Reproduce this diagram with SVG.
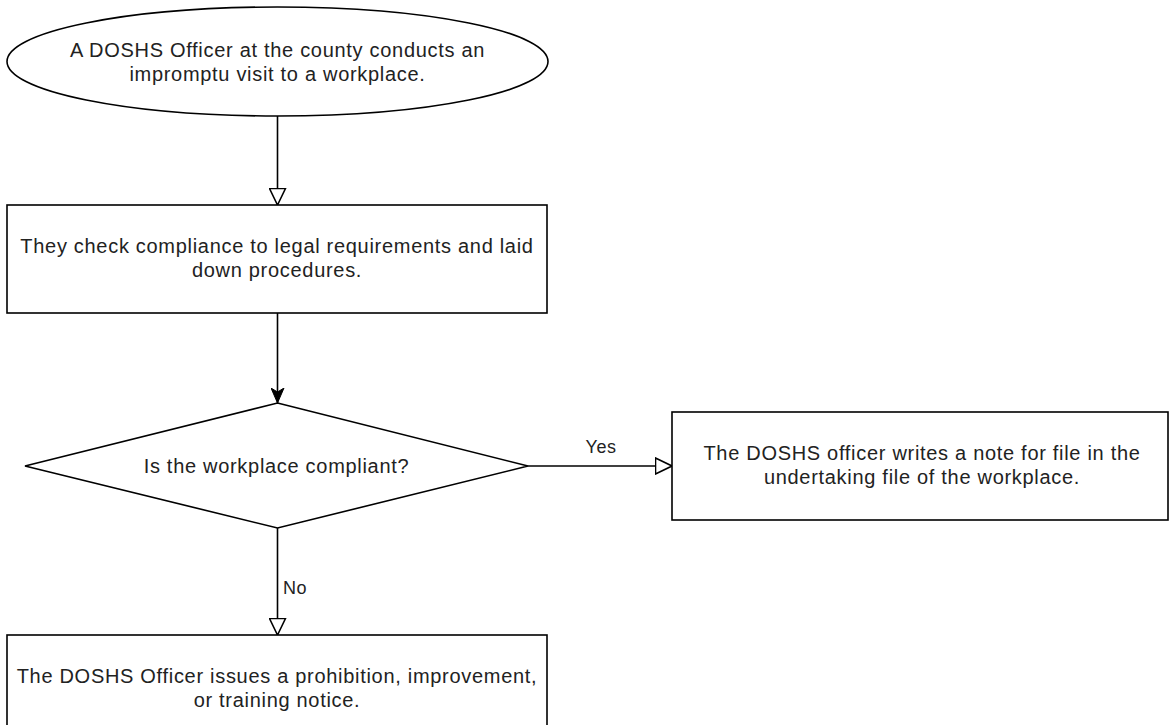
<svg xmlns="http://www.w3.org/2000/svg" width="1169" height="725" viewBox="0 0 1169 725">
  <style>
    .shape { fill: #ffffff; stroke: #000000; stroke-width: 1.6; }
    .edge { fill: none; stroke: #000000; stroke-width: 1.6; }
    .txt { font-family: "Liberation Sans", Arial, sans-serif; font-size: 20px; letter-spacing: 0.7px; fill: #222222; text-anchor: middle; }
    .lbl { font-family: "Liberation Sans", Arial, sans-serif; font-size: 18px; letter-spacing: 0.5px; fill: #222222; }
  </style>
  <defs>
    <marker id="hollow" markerUnits="userSpaceOnUse" viewBox="0 0 18 18" refX="17.5" refY="9" markerWidth="18" markerHeight="18" orient="auto">
      <path d="M1,1 L17.5,9 L1,17 Z" fill="#ffffff" stroke="#000000" stroke-width="1.6"/>
    </marker>
    <marker id="filled" markerUnits="userSpaceOnUse" viewBox="0 0 16 14" refX="15.5" refY="7" markerWidth="16" markerHeight="14" orient="auto">
      <path d="M0.5,0.5 L15.5,7 L0.5,13.5 L4.5,7 Z" fill="#000000" stroke="#000000" stroke-width="1"/>
    </marker>
  </defs>
  <rect width="1169" height="725" fill="#ffffff"/>

  <g id="connectors">
    <path class="edge" d="M277.5,116 L277.5,205" marker-end="url(#hollow)"/>
    <path class="edge" d="M277.5,313 L277.5,403" marker-end="url(#filled)"/>
    <path class="edge" d="M528,466 L672,466" marker-end="url(#hollow)"/>
    <path class="edge" d="M277.5,528 L277.5,635" marker-end="url(#hollow)"/>
    <text class="lbl" x="601" y="453" text-anchor="middle">Yes</text>
    <text class="lbl" x="283" y="594">No</text>
  </g>

  <g id="start">
    <ellipse class="shape" cx="277.5" cy="61.5" rx="270.5" ry="54.5"/>
    <text class="txt" x="277.5" y="57">A DOSHS Officer at the county conducts an</text>
    <text class="txt" x="277.5" y="81">impromptu visit to a workplace.</text>
  </g>

  <g id="check">
    <rect class="shape" x="7" y="205" width="540" height="108"/>
    <text class="txt" x="277" y="253">They check compliance to legal requirements and laid</text>
    <text class="txt" x="277" y="277">down procedures.</text>
  </g>

  <g id="decision">
    <polygon class="shape" points="277.5,403 528,466 277.5,528 25,466"/>
    <text class="txt" x="276.5" y="473">Is the workplace compliant?</text>
  </g>

  <g id="note">
    <rect class="shape" x="672" y="412" width="496" height="108"/>
    <text class="txt" x="922" y="460">The DOSHS officer writes a note for file in the</text>
    <text class="txt" x="922" y="484">undertaking file of the workplace.</text>
  </g>

  <g id="notice">
    <rect class="shape" x="7" y="635" width="540" height="108"/>
    <text class="txt" x="277" y="683">The DOSHS Officer issues a prohibition, improvement,</text>
    <text class="txt" x="277" y="707">or training notice.</text>
  </g>
</svg>
